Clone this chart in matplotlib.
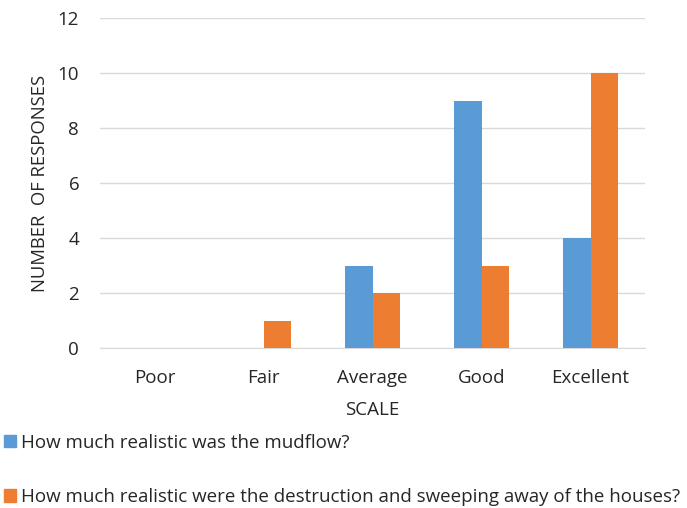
import matplotlib
matplotlib.use("Agg")
import matplotlib.pyplot as plt
import numpy as np
from matplotlib.patches import Patch

categories = ["Poor", "Fair", "Average", "Good", "Excellent"]
mudflow = [0, 0, 3, 9, 4]
destruction = [0, 1, 2, 3, 10]
series_labels = ["How much realistic was the mudflow?",
                 "How much realistic were the destruction and sweeping away of the houses?"]
yticks = [0, 2, 4, 6, 8, 10, 12]

plt.rcParams['font.family'] = ['Open Sans', 'DejaVu Sans']
blue = "#5B9BD5"
orange = "#ED7D31"
fs = 13.5

fig = plt.figure(figsize=(6.87, 5.08), dpi=100)
ax = fig.add_axes([100/687, 1-348/508, 545/687, 330/508])

x = np.arange(len(categories))
w = 0.25
ax.bar(x - w/2, mudflow, w, color=blue, zorder=3)
ax.bar(x + w/2, destruction, w, color=orange, zorder=3)

ax.set_xlim(-0.5, len(categories) - 0.5)
ax.set_ylim(0, 12)
ax.set_yticks(yticks)
ax.set_xticks(x)
ax.set_xticklabels(categories)
ax.tick_params(axis='both', length=0, labelsize=fs, colors="#262626")
ax.tick_params(axis='x', pad=15)
ax.tick_params(axis='y', pad=15)
ax.grid(axis='y', color="#D9D9D9", linewidth=1, zorder=0)
for s in ["top", "right", "left"]:
    ax.spines[s].set_visible(False)
ax.spines["bottom"].set_color("#D9D9D9")
ax.set_ylabel("NUMBER  OF RESPONSES", fontsize=13.3, color="#262626", labelpad=6)
ax.set_xlabel("SCALE", fontsize=fs, color="#262626", labelpad=10)

handles = [Patch(color=blue), Patch(color=orange)]
fig.legend(handles, series_labels, loc="upper left",
           bbox_to_anchor=(0.0, 1 - 430/508),
           frameon=False, fontsize=fs, labelspacing=1.95, handlelength=0.65,
           handleheight=0.65, handletextpad=0.25, borderaxespad=0, borderpad=0.2,
           labelcolor="#262626")

fig.savefig("out.png", dpi=100)
